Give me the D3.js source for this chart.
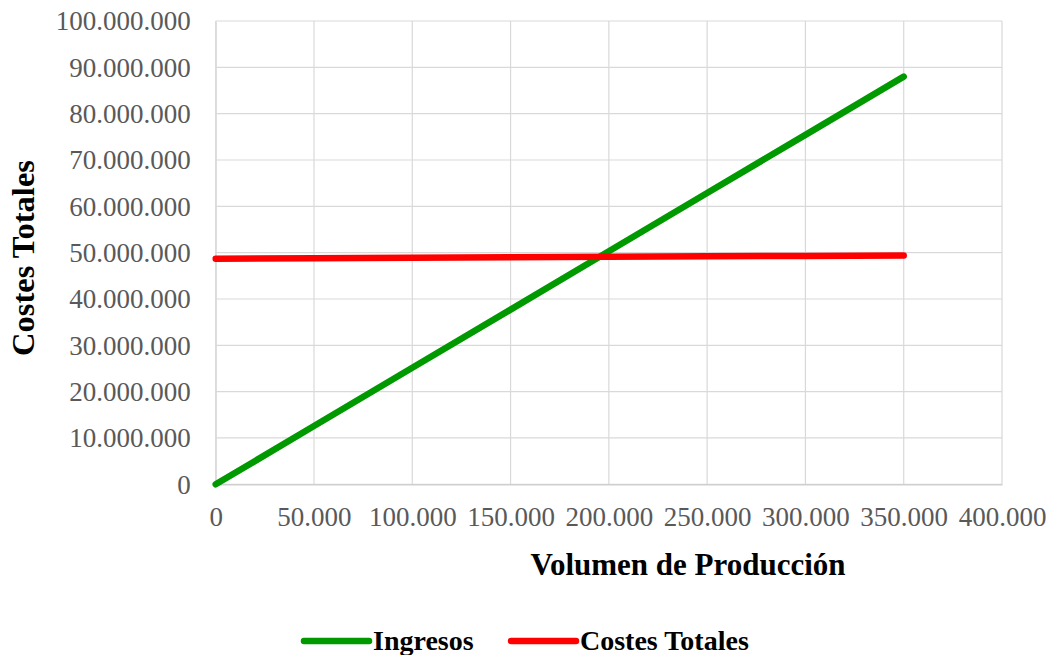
<!DOCTYPE html>
<html>
<head>
<meta charset="utf-8">
<script src="https://cdn.jsdelivr.net/npm/d3@7"></script>
<style>
  html, body { margin: 0; padding: 0; background: #fff; }
  svg { display: block; }
</style>
</head>
<body>
<svg id="chart" width="1053" height="655"></svg>
<script>
// Production volume (units)
const volumen = [0, 50000, 100000, 150000, 200000, 250000, 300000, 350000];
// Revenue for each volume
const ingresos = [0, 12570000, 25140000, 37710000, 50290000, 62860000, 75430000, 88000000];
// Total costs for each volume (fixed + variable)
const costesTotales = [48700000, 48800000, 48900000, 49000000, 49100000, 49200000, 49300000, 49400000];

const xTicks = [0, 50000, 100000, 150000, 200000, 250000, 300000, 350000, 400000];
const yTicks = [0, 10000000, 20000000, 30000000, 40000000, 50000000, 60000000, 70000000, 80000000, 90000000, 100000000];

const seriesNames = ["Ingresos", "Costes Totales"];
const seriesColors = ["#009900", "#ff0000"];

const svg = d3.select("#chart");
const margin = { left: 215.7, right: 1002, top: 21, bottom: 484.3 };

const x = d3.scaleLinear().domain([0, 400000]).range([margin.left, margin.right]);
const y = d3.scaleLinear().domain([0, 100000000]).range([margin.bottom, margin.top]);

// Thousands separator "."
const fmt = d => d3.format(",")(d).replace(/,/g, ".");

const serif = "'Liberation Serif', 'Times New Roman', serif";

// Gridlines
svg.append("g")
  .selectAll("line.h")
  .data(yTicks)
  .join("line")
  .attr("x1", margin.left).attr("x2", margin.right)
  .attr("y1", d => y(d)).attr("y2", d => y(d))
  .attr("stroke", "#d9d9d9").attr("stroke-width", 1.2);

svg.append("g")
  .selectAll("line.v")
  .data(xTicks)
  .join("line")
  .attr("x1", d => x(d)).attr("x2", d => x(d))
  .attr("y1", margin.top).attr("y2", margin.bottom)
  .attr("stroke", "#d9d9d9").attr("stroke-width", 1.2);

// Axes (labels only, lines come from the grid)
const xAxis = d3.axisBottom(x).tickValues(xTicks).tickFormat(fmt).tickSize(0).tickPadding(0);
const gx = svg.append("g").attr("transform", `translate(0,${margin.bottom})`).call(xAxis);
gx.select(".domain").attr("stroke", "#cfcfcf").attr("stroke-width", 1.5);
gx.selectAll("text")
  .attr("y", 42).attr("dy", 0)
  .attr("font-family", serif).attr("font-size", 27).attr("fill", "#595959");

const yAxis = d3.axisLeft(y).tickValues(yTicks).tickFormat(fmt).tickSize(0).tickPadding(0);
const gy = svg.append("g").attr("transform", `translate(${margin.left},0)`).call(yAxis);
gy.select(".domain").attr("stroke", "#d9d9d9").attr("stroke-width", 1.2);
gy.selectAll("text")
  .attr("x", -25).attr("dy", "0.33em")
  .attr("font-family", serif).attr("font-size", 27).attr("fill", "#595959");

// Series lines
const line = d3.line().x((d, i) => x(volumen[i])).y(d => y(d));
[ingresos, costesTotales].forEach((vals, k) => {
  svg.append("path")
    .datum(vals)
    .attr("d", line)
    .attr("fill", "none")
    .attr("stroke", seriesColors[k])
    .attr("stroke-width", 6.5)
    .attr("stroke-linecap", "round")
    .attr("stroke-linejoin", "round");
});

// Axis titles
svg.append("text")
  .attr("x", 688).attr("y", 575)
  .attr("text-anchor", "middle")
  .attr("font-family", serif).attr("font-weight", "bold").attr("font-size", 31)
  .attr("fill", "#000")
  .text("Volumen de Producción");

svg.append("text")
  .attr("transform", "translate(34,258) rotate(-90)")
  .attr("text-anchor", "middle")
  .attr("font-family", serif).attr("font-weight", "bold").attr("font-size", 32.5)
  .attr("fill", "#000")
  .text("Costes Totales");

// Legend
const legendItems = [
  { name: seriesNames[0], color: seriesColors[0], x0: 304 },
  { name: seriesNames[1], color: seriesColors[1], x0: 511 }
];
const lg = svg.append("g");
legendItems.forEach(it => {
  lg.append("line")
    .attr("x1", it.x0).attr("x2", it.x0 + 65)
    .attr("y1", 641).attr("y2", 641)
    .attr("stroke", it.color).attr("stroke-width", 6.5)
    .attr("stroke-linecap", "round");
  lg.append("text")
    .attr("x", it.x0 + 69).attr("y", 650)
    .attr("font-family", serif).attr("font-weight", "bold").attr("font-size", 28)
    .attr("fill", "#000")
    .text(it.name);
});
</script>
</body>
</html>
